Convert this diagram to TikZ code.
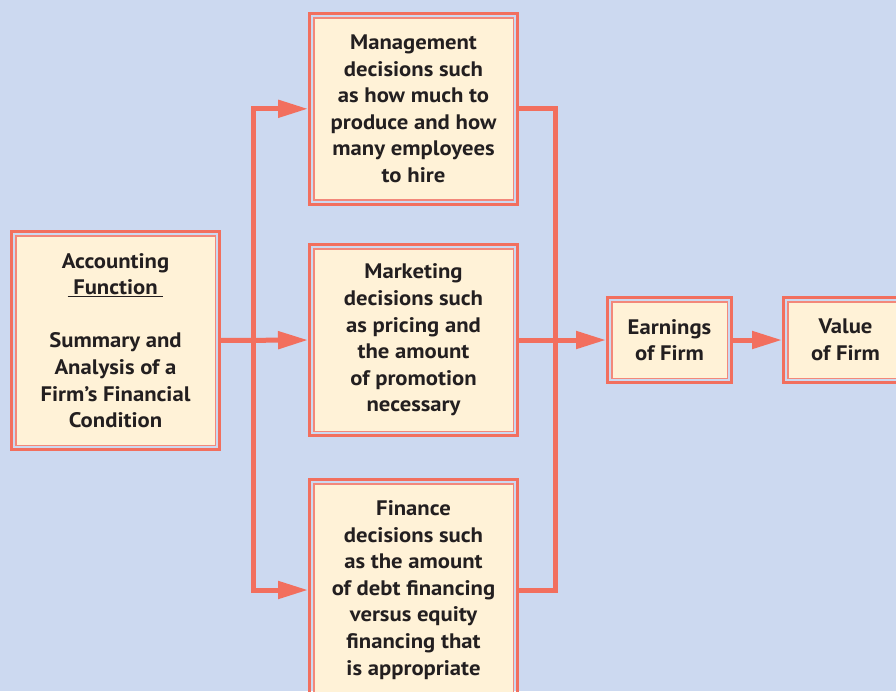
\documentclass[tikz,border=0pt]{standalone}
\usepackage{fontspec}
\setmainfont[FakeStretch=1.08]{PT Sans}
\usetikzlibrary{arrows.meta}
\definecolor{bgblue}{HTML}{CCD9F0}
\definecolor{coral}{HTML}{F26F5E}
\definecolor{coralin}{HTML}{F3887A}
\definecolor{cream}{HTML}{FFF2D7}
\definecolor{ink}{HTML}{231F20}
\begin{document}
\begin{tikzpicture}[x=1pt,y=-1pt,
  box/.style={draw=coralin, line width=1.5pt, fill=cream, align=center,
    inner sep=0pt, outer sep=0pt, text=ink,
    font=\fontsize{21}{26.6}\selectfont\bfseries,
    execute at begin node={\rule{0pt}{19.5pt}}},
  outerframe/.style={draw=coral, line width=3pt},
  conn/.style={draw=coral, line width=5pt, shorten <=5.75pt, shorten >=5.75pt},
  tip/.style={-{Triangle[length=30pt,width=17pt]}},
  tips/.style={{Triangle[length=30pt,width=17pt]}-{Triangle[length=30pt,width=17pt]}}]
\useasboundingbox (0,0) rectangle (896,691);
\clip (0,0) rectangle (896,691);
\fill[bgblue] (0,0) rectangle (896,691);

\node[box, minimum width=199.5pt, minimum height=209.5pt] (acc) at (115.5,340.5)
  {Accounting\\ \underline{\ Function\ }\\[26.6pt]Summary and\\Analysis of a\\Firm\char39 s Financial\\Condition};
\node[box, minimum width=199.5pt, minimum height=182pt] (mgmt) at (413.5,108.8)
  {Management\\decisions such\\as how much to\\produce and how\\many employees\\to hire};
\node[box, minimum width=199.5pt, minimum height=182.5pt] (mkt) at (413.5,340)
  {Marketing\\decisions such\\as pricing and\\the amount\\of promotion\\necessary};
\node[box, minimum width=199.5pt, minimum height=212.5pt] (fin) at (413.5,590)
  {Finance\\decisions such\\as the amount\\of debt financing\\versus equity\\financing that\\is appropriate};
\node[box, minimum width=115.5pt, minimum height=76.5pt] (earn) at (669.5,340)
  {Earnings\\of Firm};
\node[box, minimum width=115.5pt, minimum height=76.5pt] (val) at (845.5,340)
  {Value\\of Firm};

\foreach \n in {acc,mgmt,mkt,fin,earn,val}
  \draw[outerframe] ([shift={(-4.25pt,4.25pt)}]\n.north west) rectangle ([shift={(4.25pt,-4.25pt)}]\n.south east);

\coordinate (jl) at (253.3,340);
\coordinate (jr) at (555,340);

\draw[conn, tip] (acc.east) -- (mkt.west);
\draw[conn, tips] (mgmt.west) -- (jl |- mgmt.west) -- (jl |- fin.west) -- (fin.west);
\draw[conn] (mgmt.east) -- (jr |- mgmt.east) -- (jr |- fin.east) -- (fin.east);
\draw[conn, tip] (mkt.east) -- (earn.west);
\draw[conn, tip] (earn.east) -- (val.west);
\end{tikzpicture}
\end{document}
